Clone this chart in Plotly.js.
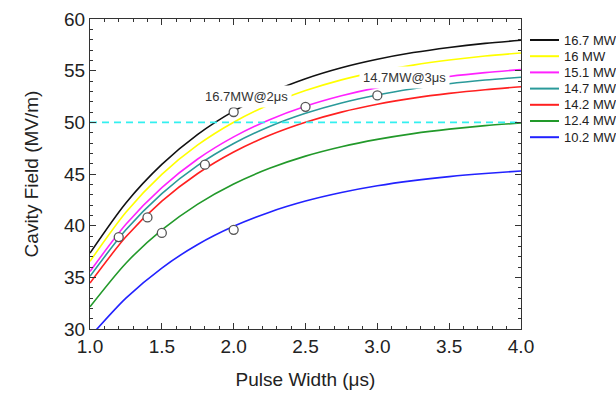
<!DOCTYPE html>
<html>
<head>
<meta charset="utf-8">
<script src="https://cdn.plot.ly/plotly-3.0.1.min.js"></script>
<style>html,body{margin:0;padding:0;background:#fff;}#chart{width:616px;height:395px;}</style>
</head>
<body>
<div id="chart"></div>
<script>
// Pulse width (µs) sample points
const pulseWidth = [1.0, 1.25, 1.5, 1.75, 2.0, 2.25, 2.5, 2.75, 3.0, 3.25, 3.5, 3.75, 4.0];

// Cavity field (MV/m) per RF power
const field16_7 = [37.35, 42.20, 45.93, 48.84, 51.09, 52.85, 54.22, 55.28, 56.10, 56.75, 57.25, 57.64, 57.94];
const field16_0 = [36.55, 41.30, 44.96, 47.81, 50.01, 51.73, 53.07, 54.11, 54.91, 55.54, 56.03, 56.42, 56.71];
const field15_1 = [35.57, 40.13, 43.68, 46.45, 48.59, 50.26, 51.56, 52.57, 53.36, 53.97, 54.44, 54.81, 55.10];
const field14_7 = [35.10, 39.60, 43.11, 45.84, 47.95, 49.60, 50.88, 51.88, 52.65, 53.25, 53.73, 54.09, 54.37];
const field14_2 = [34.45, 38.92, 42.37, 45.05, 47.13, 48.75, 50.01, 50.99, 51.75, 52.34, 52.80, 53.16, 53.44];
const field12_4 = [32.15, 36.37, 39.59, 42.09, 44.04, 45.55, 46.73, 47.64, 48.35, 48.91, 49.34, 49.68, 49.93];
const field10_2 = [29.24, 32.99, 35.90, 38.18, 39.94, 41.31, 42.38, 43.21, 43.86, 44.36, 44.75, 45.05, 45.29];

const seriesNames = ["16.7 MW", "16 MW", "15.1 MW", "14.7 MW", "14.2 MW", "12.4 MW", "10.2 MW"];
const seriesValues = [field16_7, field16_0, field15_1, field14_7, field14_2, field12_4, field10_2];
const seriesColors = ["#111111", "#ffff00", "#ff22ff", "#2a9a9a", "#ff2020", "#22992a", "#2222ff"];

// Target field line
const targetX = [1.0, 4.0];
const targetY = [50, 50];

// Marked operating points (open circles)
const pointX = [1.2, 1.4, 1.5, 1.8, 2.0, 2.0, 2.5, 3.0];
const pointY = [38.9, 40.8, 39.3, 45.9, 51.0, 39.6, 51.5, 52.6];

// Callout labels
const labelText = ["16.7MW@2\u03bcs", "14.7MW@3\u03bcs"];
const labelX = [2.09, 3.19];
const labelY = [52.5, 54.3];

const FONT = "Liberation Sans, Arial, sans-serif";

const traces = [];
seriesNames.forEach((name, i) => {
  traces.push({
    x: pulseWidth, y: seriesValues[i], name: name, type: "scatter", mode: "lines",
    line: {color: seriesColors[i], width: 1.6, shape: "spline", smoothing: 0.8},
    showlegend: false, hoverinfo: "skip"
  });
});
traces.push({
  x: targetX, y: targetY, type: "scatter", mode: "lines",
  line: {color: "#33f0f0", width: 1.8, dash: "7px,5px"}, showlegend: false
});
traces.push({
  x: pointX, y: pointY, type: "scatter", mode: "markers",
  marker: {symbol: "circle", size: 9, color: "#ffffff", line: {color: "#555555", width: 1.3}},
  showlegend: false, cliponaxis: false
});

const annotations = labelText.map((t, i) => ({
  x: labelX[i], y: labelY[i], xref: "x", yref: "y", text: t, showarrow: false,
  font: {family: FONT, size: 13, color: "#333333"}, bgcolor: "#ffffff", borderpad: 3
}));

// Manual legend (right of plot)
const shapes = [];
const plotTop = 19, plotBottom = 329, plotLeft = 90, plotRight = 521;
const pw = plotRight - plotLeft, ph = plotBottom - plotTop;
seriesNames.forEach((name, i) => {
  const yPix = 40 + 16.2 * i;
  const yp = (plotBottom - yPix) / ph;
  shapes.push({type: "line", xref: "paper", yref: "paper",
    x0: (530 - plotLeft) / pw, x1: (559 - plotLeft) / pw, y0: yp, y1: yp,
    line: {color: seriesColors[i], width: 2}});
  annotations.push({xref: "paper", yref: "paper", x: (562 - plotLeft) / pw, y: yp,
    xanchor: "left", yanchor: "middle", text: name, showarrow: false,
    font: {family: FONT, size: 13, color: "#222222"}});
});

const layout = {
  width: 616, height: 395,
  margin: {l: 90, r: 95, t: 19, b: 66, pad: 0},
  paper_bgcolor: "#ffffff", plot_bgcolor: "#ffffff",
  showlegend: false,
  font: {family: FONT, color: "#222222"},
  xaxis: {
    range: [1.0, 4.0], dtick: 0.5, tick0: 1.0, tickformat: ".1f",
    ticks: "inside", ticklen: 6, tickwidth: 1, tickcolor: "#333",
    minor: {dtick: 0.1, ticks: "inside", ticklen: 3, tickcolor: "#333"},
    showline: true, linecolor: "#333", linewidth: 1, mirror: "allticks",
    showgrid: false, zeroline: false,
    tickfont: {family: FONT, size: 19, color: "#222"},
    title: {text: "Pulse Width (\u03bcs)", font: {family: FONT, size: 19, color: "#222"}, standoff: 16}
  },
  yaxis: {
    range: [30, 60], dtick: 5, tick0: 30,
    ticks: "inside", ticklen: 6, tickwidth: 1, tickcolor: "#333",
    minor: {dtick: 1, ticks: "inside", ticklen: 3, tickcolor: "#333"},
    showline: true, linecolor: "#333", linewidth: 1, mirror: "allticks",
    showgrid: false, zeroline: false,
    tickfont: {family: FONT, size: 19, color: "#222"},
    title: {text: "Cavity Field (MV/m)", font: {family: FONT, size: 19, color: "#222"}, standoff: 20}
  },
  annotations: annotations,
  shapes: shapes
};

Plotly.newPlot("chart", traces, layout, {displayModeBar: false, staticPlot: true});
</script>
</body>
</html>
